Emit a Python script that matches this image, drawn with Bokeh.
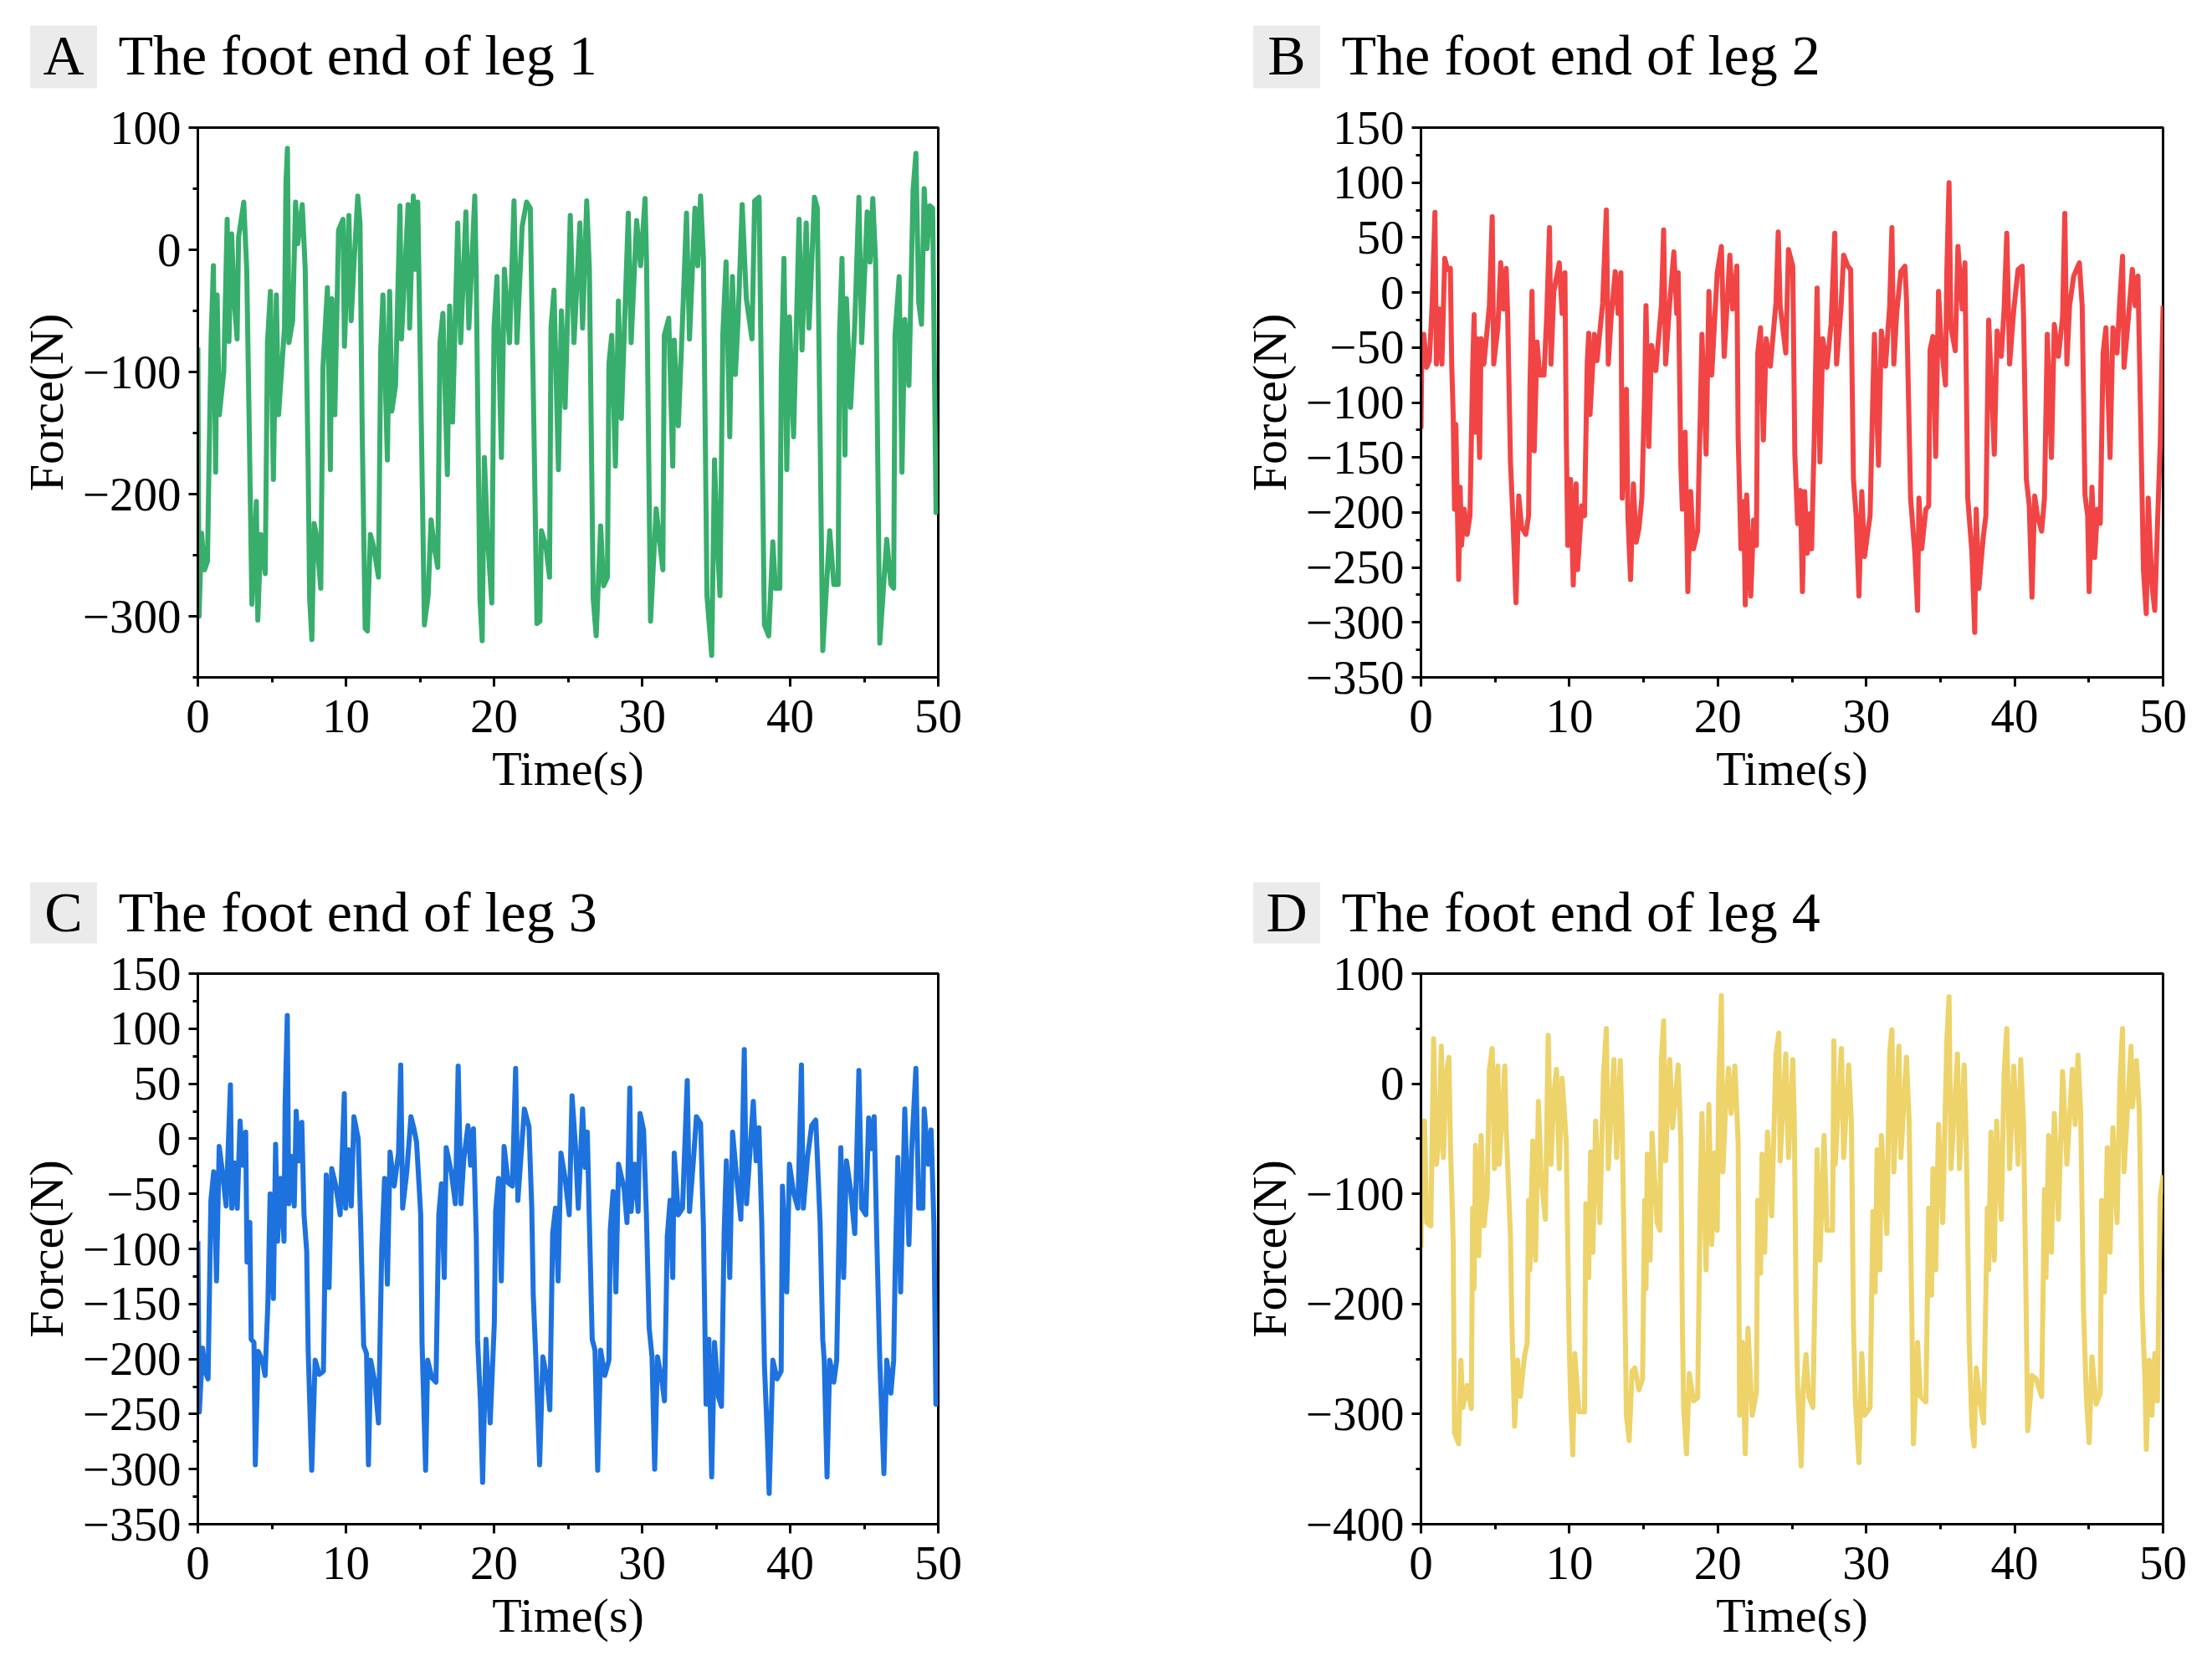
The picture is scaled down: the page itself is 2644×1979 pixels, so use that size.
from bokeh.plotting import figure
from bokeh.models import Range1d, FixedTicker
from bokeh.layouts import column, row
from bokeh.core.properties import value
from bokeh.embed import file_html
from bokeh.resources import INLINE

FONT = "Liberation Serif"

# (time s, force N), one row per gait cycle
leg1 = [
    (0.00, -80), (0.08, -300), (0.25, -232), (0.45, -262), (0.65, -255), (0.80, -140), (0.90, -70), (1.05, -13), (1.20, -182), (1.30, -37), (1.45, -135), (1.75, -100), (1.98, 25), (2.10, -75), (2.28, 13), (2.45, -40), (2.65, -73), (2.75, 10), (3.10, 39), (3.30, -16), (3.45, -130), (3.65, -290), (3.95, -206), (4.05, -303), (4.25, -233), (4.55, -265),
    (4.70, -76), (4.90, -34), (5.10, -188), (5.30, -37), (5.45, -135), (5.85, -64), (5.95, 55), (6.05, 83), (6.15, -76), (6.40, -58), (6.60, 39), (6.75, 5), (7.05, 37), (7.25, -16), (7.45, -180), (7.55, -286), (7.70, -319), (7.85, -224), (8.00, -233), (8.30, -277),
    (8.45, -96), (8.75, -31), (8.95, -180), (9.05, -40), (9.25, -135), (9.50, 16), (9.80, 25), (9.90, -79), (10.20, 28), (10.35, -58), (10.55, -10), (10.80, 44), (10.95, 22), (11.10, -150), (11.30, -310), (11.45, -312), (11.65, -233), (11.85, -242), (12.20, -268),
    (12.35, -82), (12.50, -37), (12.80, -172), (12.95, -34), (13.10, -132), (13.35, -111), (13.65, 36), (13.75, -73), (14.20, 37), (14.30, -64), (14.55, 44), (14.70, -16), (14.85, 39), (15.10, -150), (15.30, -307), (15.55, -283), (15.75, -221), (15.95, -242), (16.20, -260),
    (16.35, -76), (16.55, -52), (16.85, -184), (17.00, -46), (17.20, -141), (17.55, 22), (17.75, -76), (18.10, 31), (18.30, -64), (18.70, 44), (18.80, -22), (19.05, -286), (19.20, -320), (19.35, -170), (19.55, -233), (19.85, -289),
    (20.00, -64), (20.20, -22), (20.50, -170), (20.70, -16), (21.05, -76), (21.35, 40), (21.55, -76), (21.90, 19), (22.20, 39), (22.45, 34), (22.70, -150), (22.90, -306), (23.10, -304), (23.20, -230), (23.50, -242), (23.75, -268),
    (23.85, -64), (24.05, -33), (24.35, -180), (24.55, -50), (24.80, -129), (25.15, 28), (25.40, -76), (25.80, 22), (25.98, -64), (26.26, 40), (26.44, -16), (26.70, -286), (26.90, -316), (27.20, -226), (27.40, -275), (27.66, -268),
    (27.76, -93), (27.95, -70), (28.20, -177), (28.40, -42), (28.60, -138), (29.07, 30), (29.26, -76), (29.63, 24), (29.90, -13), (30.20, 42), (30.30, -10), (30.57, -304), (30.95, -212), (31.13, -233), (31.40, -262),
    (31.50, -70), (31.80, -56), (32.07, -177), (32.17, -74), (32.45, -144), (32.73, -58), (33.00, 30), (33.20, -73), (33.57, 34), (33.76, -13), (33.95, 44), (34.14, -7), (34.38, -283), (34.70, -332), (34.89, -172), (35.07, -236), (35.26, -283),
    (35.45, -70), (35.67, -10), (35.92, -153), (36.10, -22), (36.30, -102), (36.48, -58), (36.76, 37), (37.04, -40), (37.42, -73), (37.60, 40), (37.90, 43), (38.26, -307), (38.55, -316), (38.83, -239), (39.00, -277), (39.30, -277),
    (39.40, -99), (39.58, -7), (39.77, -180), (39.95, -55), (40.23, -153), (40.60, 25), (40.80, -82), (41.08, 22), (41.27, -64), (41.64, 43), (41.83, 34), (42.20, -328), (42.67, -230), (42.95, -274), (43.24, -274),
    (43.33, -70), (43.50, -7), (43.70, -168), (43.80, -40), (44.08, -129), (44.36, -61), (44.64, 43), (44.83, -76), (45.20, 31), (45.39, -10), (45.58, 42), (45.77, -10), (46.05, -322), (46.52, -237), (46.80, -274), (46.99, -277),
    (47.08, -70), (47.36, -22), (47.55, -182), (47.74, -57), (48.02, -111), (48.30, 49), (48.49, 79), (48.68, -43), (48.87, -61), (49.05, 50), (49.24, 1), (49.43, 36), (49.62, 34), (49.70, -52), (49.85, -215), (50.00, -210),
]

leg2 = [
    (0.00, -124), (0.06, -52), (0.19, -38), (0.38, -68), (0.56, -62), (0.75, -12), (0.94, 73), (1.04, -65), (1.22, -15), (1.41, -65), (1.60, 31), (1.79, 21), (1.98, 22), (2.07, -65), (2.17, -111), (2.26, -197), (2.35, -120), (2.54, -261), (2.64, -177), (2.73, -230), (2.92, -197), (3.11, -220), (3.30, -203),
    (3.48, -71), (3.58, -20), (3.67, -127), (3.77, -42), (3.95, -150), (4.05, -42), (4.24, -65), (4.61, -12), (4.80, 69), (4.90, -65), (5.18, -32), (5.37, 27), (5.56, -15), (5.74, 22), (5.84, -19), (6.03, -154), (6.21, -210), (6.40, -282), (6.59, -185), (6.78, -213), (7.06, -220), (7.25, -203),
    (7.34, -88), (7.48, 1), (7.63, -144), (7.82, -45), (8.00, -75), (8.29, -75), (8.47, -22), (8.66, 59), (8.76, -65), (8.95, 1), (9.32, 27), (9.51, -19), (9.70, 18), (9.79, -131), (9.89, -230), (10.08, -170), (10.26, -266), (10.45, -174), (10.55, -252), (10.83, -194), (11.02, -203),
    (11.20, -65), (11.30, -37), (11.39, -111), (11.68, -38), (11.86, -62), (12.24, -10), (12.49, 75), (12.62, -65), (12.80, -25), (13.09, 19), (13.28, -19), (13.47, 18), (13.56, -187), (13.84, -88), (13.94, -203), (14.12, -261), (14.31, -174), (14.50, -227), (14.69, -214), (14.88, -187),
    (15.07, -91), (15.16, -12), (15.35, -140), (15.54, -48), (15.82, -71), (16.20, -12), (16.35, 57), (16.48, -65), (16.76, -9), (17.04, 37), (17.23, -19), (17.33, 18), (17.51, -157), (17.61, -197), (17.80, -127), (17.98, -272), (18.17, -181), (18.36, -233), (18.64, -217),
    (18.83, -104), (18.93, -38), (19.21, -147), (19.40, 1), (19.59, -75), (19.96, 18), (20.24, 42), (20.43, -58), (20.81, 34), (21.00, -15), (21.28, 24), (21.37, -131), (21.56, -233), (21.75, -190), (21.85, -284), (21.94, -184), (22.22, -276), (22.41, -207), (22.60, -230),
    (22.69, -55), (22.88, -32), (23.07, -134), (23.26, -42), (23.54, -67), (23.92, -9), (24.07, 55), (24.20, -12), (24.58, -55), (24.76, 39), (25.05, 24), (25.19, -147), (25.38, -210), (25.56, -180), (25.70, -272), (25.85, -181), (26.03, -237), (26.22, -201), (26.32, -233),
    (26.50, -131), (26.69, 4), (26.88, -154), (27.07, -42), (27.35, -68), (27.63, -29), (27.88, 54), (28.00, -65), (28.29, -16), (28.48, 34), (28.76, 24), (28.95, 21), (29.14, -170), (29.32, -203), (29.51, -276), (29.70, -181), (29.89, -240), (30.08, -220), (30.26, -203),
    (30.45, -91), (30.55, -38), (30.83, -157), (31.02, -35), (31.30, -67), (31.58, -12), (31.73, 59), (31.86, -65), (32.05, -19), (32.33, 19), (32.61, 24), (32.71, -6), (32.99, -187), (33.27, -236), (33.46, -289), (33.55, -187), (33.74, -233), (34.02, -197), (34.21, -194),
    (34.30, -52), (34.49, -40), (34.68, -149), (34.87, 1), (35.06, -48), (35.34, -84), (35.43, 19), (35.58, 100), (35.71, -32), (36.00, -53), (36.18, 42), (36.47, -15), (36.65, 27), (36.84, -187), (37.12, -236), (37.31, -309), (37.41, -197), (37.59, -269), (37.88, -223), (38.06, -203),
    (38.25, -25), (38.63, -147), (38.82, -35), (39.10, -58), (39.29, -15), (39.47, 54), (39.66, -65), (39.94, -16), (40.23, 21), (40.51, 24), (40.60, -22), (40.79, -170), (40.98, -193), (41.17, -277), (41.35, -185), (41.54, -203), (41.82, -217), (42.01, -187),
    (42.20, -38), (42.48, -150), (42.67, -29), (42.95, -58), (43.23, -22), (43.38, 72), (43.52, -65), (43.70, -12), (43.98, 15), (44.36, 27), (44.55, -12), (44.74, -184), (44.92, -203), (45.02, -272), (45.21, -177), (45.39, -241), (45.58, -197), (45.77, -210),
    (45.96, -55), (46.15, -32), (46.43, -150), (46.62, -32), (46.90, -55), (47.09, -6), (47.27, 33), (47.37, -68), (47.65, -25), (47.93, 21), (48.12, -12), (48.31, 15), (48.50, -121), (48.68, -253), (48.87, -292), (49.00, -187), (49.25, -266), (49.44, -289), (49.62, -213), (49.81, -137), (50.00, -12),
]

leg3 = [
    (0.00, -93), (0.10, -248), (0.32, -190), (0.51, -212), (0.69, -218), (0.88, -56), (1.07, -30), (1.26, -129), (1.44, -7), (1.63, -27), (1.91, -61), (2.20, 49), (2.29, -63), (2.48, -22), (2.66, -63), (2.85, 16), (3.04, -24), (3.23, 6), (3.32, -112), (3.51, -76), (3.60, -182), (3.79, -185), (3.88, -296), (4.07, -193), (4.35, -201), (4.54, -215),
    (4.73, -149), (4.88, -50), (5.10, -145), (5.25, -5), (5.38, -93), (5.57, -36), (5.82, -93), (5.89, 30), (6.04, 112), (6.14, -59), (6.32, -16), (6.51, -61), (6.64, 25), (6.83, -20), (7.02, 15), (7.17, -69), (7.35, -102), (7.45, -192), (7.69, -301), (7.92, -201), (8.20, -214), (8.48, -211),
    (8.67, -33), (8.86, -135), (9.04, -27), (9.32, -43), (9.61, -69), (9.89, 41), (9.98, -63), (10.17, -10), (10.36, -61), (10.54, 20), (10.83, 0), (11.01, -84), (11.20, -188), (11.39, -195), (11.52, -296), (11.67, -201), (11.95, -221), (12.20, -258),
    (12.42, -99), (12.61, -36), (12.80, -132), (12.98, -12), (13.26, -43), (13.55, -13), (13.70, 67), (13.83, -63), (14.11, -30), (14.39, 20), (14.58, 10), (14.77, -3), (15.05, -69), (15.14, -185), (15.38, -301), (15.52, -201), (15.80, -217), (16.08, -221),
    (16.27, -69), (16.45, -41), (16.64, -126), (16.77, -8), (17.11, -30), (17.39, -59), (17.58, 66), (17.77, -59), (17.95, -20), (18.24, 12), (18.42, -24), (18.61, 9), (18.80, -89), (18.89, -182), (19.08, -238), (19.23, -312), (19.46, -182), (19.74, -258), (20.02, -168),
    (20.11, -66), (20.30, -36), (20.49, -129), (20.68, -7), (20.96, -40), (21.24, -43), (21.46, 64), (21.61, -56), (21.80, -20), (22.05, 27), (22.36, 11), (22.55, -63), (22.65, -142), (22.83, -201), (23.08, -296), (23.30, -198), (23.58, -218), (23.77, -246),
    (23.96, -86), (24.15, -63), (24.33, -129), (24.52, -13), (24.80, -36), (25.08, -69), (25.27, 39), (25.50, -7), (25.69, -63), (25.98, 27), (26.16, -26), (26.30, 6), (26.44, -76), (26.63, -182), (26.82, -192), (27.00, -301), (27.20, -192), (27.48, -215), (27.76, -201),
    (27.85, -83), (28.04, -48), (28.23, -139), (28.41, -23), (28.79, -46), (28.98, -76), (29.17, 46), (29.26, -66), (29.50, -23), (29.73, -66), (29.86, 23), (30.10, 8), (30.29, -69), (30.48, -172), (30.67, -198), (30.85, -300), (31.04, -198), (31.32, -218), (31.51, -238),
    (31.70, -89), (31.89, -56), (32.07, -126), (32.17, -13), (32.45, -69), (32.73, -63), (33.05, 53), (33.20, -66), (33.48, -17), (33.67, 20), (33.95, 14), (34.14, -79), (34.32, -241), (34.51, -182), (34.70, -307), (34.89, -185), (35.17, -235), (35.36, -243),
    (35.54, -86), (35.69, -20), (35.92, -126), (36.11, 6), (36.39, -36), (36.67, -73), (36.90, 81), (37.05, -59), (37.23, -23), (37.51, 34), (37.70, -20), (37.89, 10), (38.08, -76), (38.26, -205), (38.45, -268), (38.58, -322), (38.83, -201), (39.11, -218), (39.39, -211),
    (39.48, -43), (39.77, -139), (39.95, -23), (40.23, -49), (40.52, -63), (40.76, 67), (40.89, -63), (41.17, -17), (41.45, 12), (41.73, 17), (42.02, -76), (42.20, -182), (42.30, -201), (42.49, -307), (42.67, -201), (42.95, -221), (43.14, -201),
    (43.33, -63), (43.42, -8), (43.61, -126), (43.80, -20), (44.08, -46), (44.36, -86), (44.64, 62), (44.83, -63), (45.11, -69), (45.30, 19), (45.49, -9), (45.67, 20), (45.86, -96), (46.05, -201), (46.33, -304), (46.52, -201), (46.80, -231), (46.99, -201),
    (47.08, -126), (47.27, -17), (47.46, -139), (47.74, 27), (48.02, -96), (48.21, -9), (48.49, 64), (48.68, -63), (48.96, -63), (49.05, 27), (49.33, -23), (49.52, 8), (49.71, -79), (49.84, -241), (50.00, -241),
]

leg4 = [
    (0.00, -149), (0.10, -34), (0.24, -34), (0.38, -126), (0.66, -129), (0.75, -53), (0.85, 41), (1.04, -73), (1.22, -50), (1.37, 34), (1.51, -67), (1.69, 9), (1.88, 24), (1.98, -53), (2.17, -143), (2.26, -317), (2.54, -327), (2.69, -251), (2.82, -294), (3.11, -274), (3.39, -295),
    (3.48, -113), (3.58, -186), (3.67, -56), (3.90, -156), (4.05, -47), (4.24, -129), (4.46, -100), (4.61, 13), (4.80, 32), (4.95, -77), (5.18, 16), (5.27, -73), (5.65, 16), (5.74, -40), (6.03, -139), (6.12, -215), (6.31, -311), (6.50, -251), (6.69, -284), (6.97, -248), (7.16, -235),
    (7.25, -106), (7.34, -169), (7.53, -52), (7.72, -160), (7.91, -16), (8.10, -86), (8.38, -123), (8.57, 44), (8.76, -73), (8.95, -10), (9.13, 13), (9.32, -77), (9.51, 5), (9.79, -53), (9.98, -231), (10.08, -286), (10.23, -337), (10.36, -245), (10.64, -298), (11.02, -298),
    (11.11, -109), (11.30, -176), (11.43, -62), (11.58, -153), (11.77, -34), (12.05, -126), (12.30, 9), (12.49, 50), (12.62, -77), (13.00, 22), (13.18, -67), (13.43, 21), (13.56, -40), (13.75, -208), (13.84, -301), (14.03, -324), (14.22, -261), (14.41, -258), (14.69, -278), (14.93, -268),
    (15.07, -106), (15.16, -186), (15.25, -64), (15.44, -160), (15.57, -45), (15.91, -126), (16.10, -133), (16.20, 22), (16.35, 57), (16.48, -70), (16.76, 22), (16.95, -40), (17.33, 17), (17.51, -53), (17.61, -218), (17.70, -295), (17.89, -336), (18.08, -263), (18.36, -288), (18.64, -285),
    (18.83, -93), (18.93, -27), (19.21, -169), (19.40, -19), (19.59, -146), (19.77, -63), (19.96, -133), (20.06, 0), (20.24, 80), (20.34, -80), (20.53, -20), (20.72, 14), (20.90, -27), (21.15, 16), (21.37, -53), (21.47, -301), (21.66, -235), (21.85, -336), (22.03, -222), (22.32, -301), (22.60, -280),
    (22.69, -106), (22.88, -172), (22.98, -64), (23.16, -153), (23.35, -44), (23.63, -120), (23.92, 27), (24.11, 46), (24.20, -70), (24.58, 27), (24.76, -67), (25.05, 22), (25.15, -31), (25.28, -205), (25.38, -278), (25.62, -347), (25.75, -278), (25.94, -246), (26.13, -284), (26.41, -294),
    (26.56, -176), (26.69, -60), (26.88, -160), (27.16, -47), (27.35, -133), (27.73, -133), (27.82, 39), (27.91, -73), (28.33, 32), (28.48, -67), (28.82, 17), (29.00, -34), (29.14, -218), (29.27, -288), (29.51, -344), (29.70, -245), (29.89, -301), (30.26, -294),
    (30.45, -116), (30.60, -189), (30.73, -60), (30.92, -169), (31.02, -47), (31.39, -136), (31.58, 28), (31.73, 49), (31.86, -80), (32.20, 34), (32.33, -67), (32.71, 24), (32.89, -34), (33.08, -218), (33.18, -327), (33.46, -235), (33.65, -284), (34.02, -289),
    (34.21, -113), (34.40, -192), (34.49, -77), (34.68, -169), (34.87, -37), (35.15, -126), (35.43, 39), (35.58, 79), (35.71, -77), (36.15, 27), (36.28, -77), (36.60, 17), (36.75, -60), (36.94, -235), (37.12, -311), (37.27, -329), (37.41, -258), (37.69, -291), (37.91, -308),
    (38.16, -113), (38.25, -169), (38.40, -44), (38.63, -160), (38.78, -34), (39.10, -123), (39.29, 9), (39.47, 50), (39.66, -77), (39.94, 16), (40.23, -73), (40.41, 22), (40.60, -37), (40.79, -218), (40.88, -315), (41.17, -265), (41.45, -268), (41.82, -284),
    (42.01, -96), (42.11, -176), (42.29, -47), (42.48, -153), (42.67, -27), (42.95, -123), (43.23, 11), (43.52, -73), (43.89, 13), (44.08, -37), (44.27, 26), (44.45, -27), (44.64, -205), (44.83, -284), (45.02, -326), (45.21, -248), (45.49, -291), (45.77, -281),
    (45.86, -106), (46.05, -189), (46.24, -58), (46.43, -153), (46.62, -40), (46.90, -126), (47.09, 0), (47.27, 50), (47.37, -80), (47.84, 34), (47.93, -21), (48.21, 21), (48.40, -24), (48.59, -202), (48.78, -268), (48.87, -332), (49.06, -251), (49.25, -301), (49.44, -245), (49.62, -288), (49.81, -103), (50.00, -83),
]

time_ticks = [0, 10, 20, 30, 40, 50]
time_minor = [5, 15, 25, 35, 45]

ticks_a = [100, 0, -100, -200, -300]
minor_a = [50, -50, -150, -250, -350]
ticks_bc = [150, 100, 50, 0, -50, -100, -150, -200, -250, -300, -350]
minor_bc = [125, 75, 25, -25, -75, -125, -175, -225, -275, -325]
ticks_d = [100, 0, -100, -200, -300, -400]
minor_d = [50, -50, -150, -250, -350]

W = 1322


def tick_text(v):
    return str(v).replace("-", "\u2212")


def make_header(letter, title, height, box_x, box_y, box_h, text_y, title_x):
    # strip above a panel: grey box with the panel letter, then the title
    h = figure(width=W, height=height, x_range=Range1d(0, W), y_range=Range1d(height, 0),
               output_backend="svg", toolbar_location=None, title=None,
               x_axis_type=None, y_axis_type=None, min_border=0)
    h.outline_line_color = None
    h.background_fill_color = "white"
    h.border_fill_color = "white"
    h.rect(x=[box_x], y=[box_y], width=80, height=box_h, fill_color="#ebebeb", line_color=None)
    h.text(x=[box_x], y=[text_y], text=[letter], text_font=value(FONT), text_font_size="68px",
           text_color="black", text_align="center", text_baseline="middle")
    h.text(x=[title_x], y=[text_y], text=[title], text_font=value(FONT), text_font_size="68px",
           text_color="black", text_align="left", text_baseline="middle")
    return h


def make_panel(data, color, y_lo, y_hi, y_ticks, y_minor, left, right, top, bottom, height):
    p = figure(width=W, height=height,
               x_range=Range1d(0, 50), y_range=Range1d(y_lo, y_hi),
               output_backend="svg", toolbar_location=None, title=None,
               min_border_left=left, min_border_right=right,
               min_border_top=top, min_border_bottom=bottom,
               x_axis_label="Time(s)", y_axis_label="Force(N)")
    p.background_fill_color = "white"
    p.border_fill_color = "white"
    p.outline_line_color = "black"
    p.outline_line_width = 3
    p.xgrid.visible = False
    p.ygrid.visible = False

    t = [d[0] for d in data]
    f = [d[1] for d in data]
    p.line(t, f, line_color=color, line_width=6, line_join="round")

    p.xaxis.ticker = FixedTicker(ticks=time_ticks, minor_ticks=time_minor)
    p.yaxis.ticker = FixedTicker(ticks=y_ticks, minor_ticks=y_minor)
    p.yaxis.major_label_overrides = {v: tick_text(v) for v in y_ticks}

    for ax in (p.xaxis[0], p.yaxis[0]):
        ax.axis_line_width = 3
        ax.major_tick_line_width = 3
        ax.minor_tick_line_width = 3
        ax.major_tick_out = 11
        ax.major_tick_in = 0
        ax.minor_tick_out = 6
        ax.minor_tick_in = 0
        ax.major_label_text_font = FONT
        ax.major_label_text_font_size = "57px"
        ax.major_label_text_color = "black"
        ax.axis_label_text_font = FONT
        ax.axis_label_text_font_size = "58px"
        ax.axis_label_text_font_style = "normal"
        ax.axis_label_text_color = "black"
    p.xaxis.major_label_standoff = 16
    p.xaxis.axis_label_standoff = 8
    p.yaxis.major_label_standoff = 9
    p.yaxis.axis_label_standoff = 8
    return p


ha = make_header("A", "The foot end of leg 1", 108, 75.5, 67.5, 75, 65, 141)
hb = make_header("B", "The foot end of leg 2", 108, 215.5, 67.5, 75, 65, 281)
pa = make_panel(leg1, "#37AE6C", -350, 100, ticks_a, minor_a, 236, 201, 44, 164, 865)
pb = make_panel(leg2, "#F14545", -350, 150, ticks_bc, minor_bc, 376, 59, 44, 164, 865)
hc = make_header("C", "The foot end of leg 3", 157, 75.5, 117.5, 73, 116, 141)
hd = make_header("D", "The foot end of leg 4", 157, 215.5, 117.5, 73, 116, 281)
pc = make_panel(leg3, "#1D72DE", -350, 150, ticks_bc, minor_bc, 236, 201, 33, 154, 845)
pd = make_panel(leg4, "#EDD36A", -400, 100, ticks_d, minor_d, 376, 59, 33, 154, 845)

layout = column(row(ha, hb), row(pa, pb), row(hc, hd), row(pc, pd))

open("out.html", "w").write(file_html(layout, INLINE))
